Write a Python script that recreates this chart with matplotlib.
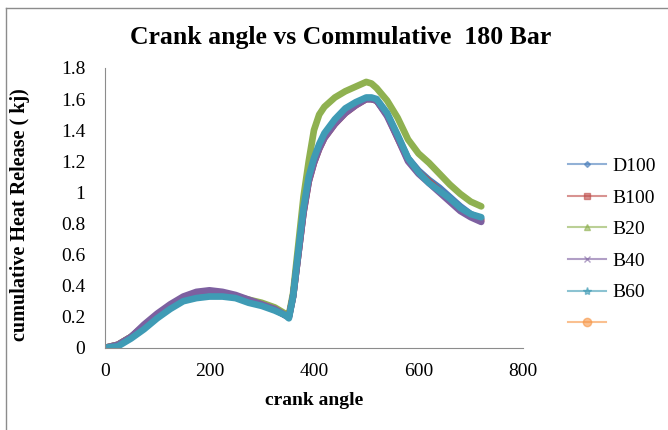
import numpy as np
import matplotlib
matplotlib.use('Agg')
import matplotlib.pyplot as plt
from matplotlib.lines import Line2D

plt.rcParams['font.family'] = ['Liberation Serif', 'DejaVu Serif']

# crank angle (deg) and cumulative heat release (kJ) per fuel blend
crank = [0, 25, 50, 75, 100, 125, 150, 175, 200, 225, 250, 275, 300, 325, 345, 352,
         360, 370, 380, 390, 400, 410, 420, 440, 460, 480, 500, 510, 520, 540, 560,
         580, 600, 620, 640, 660, 680, 700, 720]

d100 = [0, 0.02, 0.07, 0.14, 0.21, 0.27, 0.32, 0.35, 0.355, 0.35, 0.33, 0.30, 0.28, 0.25,
        0.21, 0.20, 0.33, 0.60, 0.88, 1.08, 1.20, 1.29, 1.36, 1.45, 1.52, 1.57, 1.60,
        1.60, 1.59, 1.50, 1.36, 1.22, 1.14, 1.08, 1.03, 0.97, 0.91, 0.86, 0.83]
b100 = [0, 0.02, 0.07, 0.14, 0.21, 0.27, 0.32, 0.35, 0.36, 0.35, 0.33, 0.30, 0.28, 0.25,
        0.21, 0.20, 0.33, 0.60, 0.87, 1.07, 1.19, 1.28, 1.35, 1.44, 1.51, 1.56, 1.60,
        1.60, 1.59, 1.50, 1.35, 1.21, 1.13, 1.07, 1.01, 0.95, 0.89, 0.85, 0.82]
b20 = [0, 0.02, 0.07, 0.14, 0.21, 0.27, 0.32, 0.34, 0.35, 0.34, 0.33, 0.31, 0.29, 0.26,
       0.22, 0.21, 0.35, 0.66, 0.97, 1.20, 1.40, 1.50, 1.55, 1.61, 1.65, 1.68, 1.71,
       1.70, 1.67, 1.59, 1.48, 1.34, 1.25, 1.19, 1.12, 1.05, 0.99, 0.94, 0.91]
b40 = [0, 0.02, 0.07, 0.15, 0.22, 0.28, 0.33, 0.36, 0.37, 0.36, 0.34, 0.31, 0.28, 0.25,
       0.21, 0.20, 0.33, 0.60, 0.87, 1.07, 1.19, 1.28, 1.35, 1.44, 1.51, 1.56, 1.60,
       1.60, 1.59, 1.49, 1.35, 1.20, 1.12, 1.06, 1.00, 0.94, 0.88, 0.84, 0.81]
b60 = [0, 0.01, 0.06, 0.12, 0.19, 0.25, 0.30, 0.32, 0.33, 0.33, 0.32, 0.29, 0.27, 0.24,
       0.21, 0.19, 0.33, 0.62, 0.90, 1.10, 1.22, 1.31, 1.38, 1.47, 1.54, 1.58, 1.61,
       1.61, 1.60, 1.51, 1.37, 1.22, 1.13, 1.06, 1.01, 0.96, 0.90, 0.86, 0.84]

series = ['D100', 'B100', 'B20', 'B40', 'B60', '']
values = [d100, b100, b20, b40, b60, []]
colors = ['#4A7EBB', '#BE4B48', '#8FB150', '#7D60A0', '#3F9BB5', '#F79646']
markers = ['D', 's', '^', 'x', '*', 'o']
msizes = [3, 5, 5, 5, 6, 6]

fig = plt.figure(figsize=(6.68, 4.30), dpi=100)
ax = fig.add_axes([0.157, 0.191, 0.626, 0.651])

for vals, c in zip(values, colors):
    if len(vals):
        ax.plot(crank, vals, color=c, lw=4.8, solid_capstyle='round',
                solid_joinstyle='round')

ax.set_xlim(0, 800)
ax.set_ylim(0, 1.8)
ax.set_xticks(np.arange(0, 801, 200))
ax.set_yticks(np.arange(0, 1.81, 0.2))
ax.set_yticklabels(['0', '0.2', '0.4', '0.6', '0.8', '1', '1.2', '1.4', '1.6', '1.8'])
ax.tick_params(length=0, labelsize=14)
ax.tick_params(axis='y', pad=14)
ax.tick_params(axis='x', pad=11)
for s in ['top', 'right']:
    ax.spines[s].set_visible(False)
for s in ['left', 'bottom']:
    ax.spines[s].set_color('#8C8C8C')

ax.set_xlabel('crank angle', fontsize=14, fontweight='bold')
ax.xaxis.set_label_coords(0.5, -0.158)
ax.set_ylabel('cumulative Heat Release ( kj)', fontsize=14.5, fontweight='bold')
ax.yaxis.set_label_coords(-0.178, 0.475)
fig.text(0.51, 0.912, 'Crank angle vs Commulative  180 Bar', ha='center', va='center',
         fontsize=18.5, fontweight='bold')

handles = [Line2D([], [], color=c, lw=1.5, alpha=0.6, marker=m, markersize=ms,
                  markerfacecolor=c, markeredgecolor=c)
           for c, m, ms in zip(colors, markers, msizes)]
fig.legend(handles, series, loc='upper left', bbox_to_anchor=(0.838, 0.652),
           frameon=False, fontsize=14, handlelength=2.0, labelspacing=0.72,
           handletextpad=0.3, borderaxespad=0)

# outer chart frame
fig.add_artist(Line2D([0.009, 0.009], [0, 0.981], color='#8C8C8C', lw=1))
fig.add_artist(Line2D([0.009, 1], [0.981, 0.981], color='#8C8C8C', lw=1))

fig.savefig('out.png', dpi=100)
